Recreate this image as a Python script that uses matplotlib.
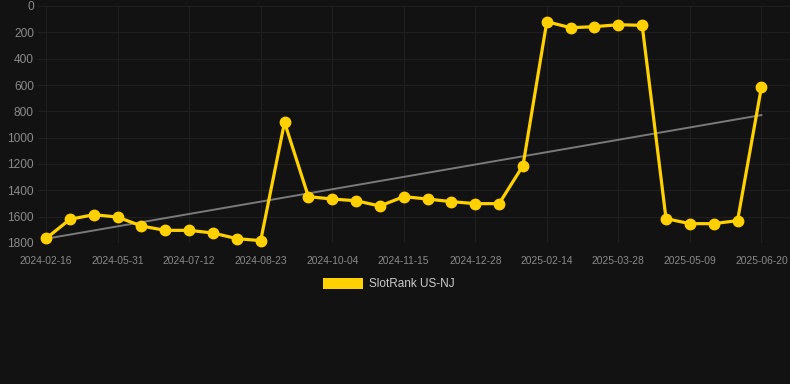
import numpy as np
import matplotlib
matplotlib.use("Agg")
import matplotlib.pyplot as plt
from matplotlib.patches import Rectangle

dates = ["2024-02-16", "2024-05-31", "2024-07-12", "2024-08-23", "2024-10-04",
         "2024-11-15", "2024-12-28", "2025-02-14", "2025-03-28", "2025-05-09", "2025-06-20"]
ranks = [1765, 1620, 1585, 1603, 1671, 1704, 1704, 1724, 1767, 1782,
         883, 1448, 1466, 1479, 1519, 1448, 1466, 1486, 1501, 1501,
         1213, 119, 165, 157, 142, 147, 1615, 1653, 1653, 1630, 618]
series_name = "SlotRank US-NJ"

BG = "#121212"
YEL = "#FFD100"
plt.rcParams['font.family'] = ['Liberation Sans', 'DejaVu Sans']

fig = plt.figure(figsize=(7.9, 3.84), dpi=100, facecolor=BG)
ax = fig.add_axes([38/790, 1-243/384, (790-38)/790, 237/384], facecolor=BG)

x = np.arange(len(ranks))
coef = np.polyfit(x, ranks, 1)
ax.plot(x, np.polyval(coef, x), color="#7a7a7a", lw=1.4, zorder=2)
ax.plot(x, ranks, color=YEL, lw=2.3, marker='o', ms=7.5, zorder=3, clip_on=False)

ax.set_xlim(-0.34, 31.2)
ax.set_ylim(1800, 0)
ax.set_yticks(np.arange(0, 1801, 200))
ax.set_xticks(np.arange(0, len(ranks), 3))
ax.set_xticklabels(dates)
ax.grid(True, color="#1f1f1f", lw=0.8)
ax.set_axisbelow(True)
for s in ax.spines.values():
    s.set_visible(False)
ax.tick_params(axis='both', length=0, colors="#8a8a8a")
ax.tick_params(axis='y', labelsize=8.6, pad=3)
ax.tick_params(axis='x', labelsize=7.4, pad=9)

fig.add_artist(Rectangle((323/790, 1-289/384), 40/790, 11/384, transform=fig.transFigure,
                         facecolor=YEL, edgecolor='none'))
fig.text(369/790, 1-284/384, series_name, va='center', ha='left', color="#cccccc", fontsize=8.5)

fig.savefig("out.png", dpi=100, facecolor=BG)
